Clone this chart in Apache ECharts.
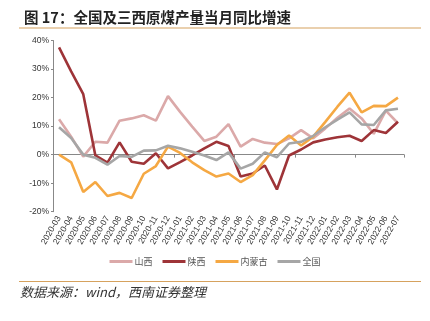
<!DOCTYPE html>
<html><head><meta charset="utf-8">
<script src="https://cdn.jsdelivr.net/npm/echarts@6/dist/echarts.min.js"></script>
<style>html,body{margin:0;padding:0;background:#fff}#c{width:430px;height:321px}</style>
</head><body><div id="c"></div>
<script>
const categories = ["2020-03","2020-04","2020-05","2020-06","2020-07","2020-08","2020-09","2020-10","2020-11","2020-12","2021-01","2021-02","2021-03","2021-04","2021-05","2021-06","2021-07","2021-08","2021-09","2021-10","2021-11","2021-12","2022-01","2022-02","2022-03","2022-04","2022-05","2022-06","2022-07"];
const shanxi = [12.4, 6.3, -0.7, 4.5, 4.2, 11.9, 12.7, 13.8, 11.9, 20.5, 15.0, 9.8, 4.8, 6.3, 10.7, 2.8, 5.5, 4.2, 3.7, 5.7, 8.6, 5.7, 9.2, 12.9, 16.2, 12.7, 7.3, 15.4, 11.0];
const shaanxi = [37.6, 29.2, 21.2, -0.3, -2.8, 4.3, -2.5, -3.2, 0.5, -4.8, -2.6, -0.3, 2.2, 4.5, 3.0, -7.7, -6.6, -3.8, -12.2, -0.3, 1.8, 4.3, 5.3, 6.1, 6.6, 4.8, 8.6, 7.6, 11.5];
const neimenggu = [0, -2.7, -13.1, -9.6, -14.5, -13.4, -15.2, -6.7, -4.0, 2.8, 0.6, -2.7, -5.4, -7.7, -6.6, -9.6, -7.2, -2.0, 3.4, 6.7, 3.2, 6.3, 11.5, 16.8, 21.7, 14.8, 17.1, 17.0, 20.0];
const quanguo = [9.6, 5.8, 0, -1.1, -3.5, -0.5, -0.8, 1.4, 1.5, 3.1, 2.2, 1.0, -0.3, -1.9, 0.8, -4.9, -3.2, 0.8, -0.9, 3.9, 4.5, 6.6, 9.6, 12.3, 14.8, 10.6, 10.4, 15.5, 16.1];
const seriesNames = ["山西","陕西","内蒙古","全国"];
const colors = ["#DBA9A9","#9E3438","#F5A843","#A6A6A6"];
const yTicks = {min: -20, max: 40, interval: 10};

const chart = echarts.init(document.getElementById('c'));
const dataList = [shanxi, shaanxi, neimenggu, quanguo];
chart.setOption({
  animation: false,
  color: colors,
  title: {
    text: "图 17：全国及三西原煤产量当月同比增速",
    left: 19, top: 5,
    textStyle: {fontFamily: "Noto Sans CJK SC", fontWeight: "bold", fontSize: 14.5, color: "#222"}
  },
  graphic: [
    {type: 'line', shape: {x1: 19, y1: 28, x2: 421, y2: 28}, style: {stroke: '#D6A25E', lineWidth: 1.2}},
    {type: 'line', shape: {x1: 19, y1: 281.5, x2: 421, y2: 281.5}, style: {stroke: '#D6A25E', lineWidth: 1.2}},
    {type: 'text', left: 20, top: 286, style: {text: "数据来源：wind，西南证券整理", fontFamily: "Noto Sans CJK SC", fontStyle: "italic", fontSize: 13, fill: "#333"}}
  ],
  legend: {
    bottom: 50, left: 'center',
    itemWidth: 23, itemHeight: 3, itemGap: 10,
    icon: 'rect',
    textStyle: {fontFamily: "Noto Sans CJK SC", fontSize: 9, color: "#555", padding: [0,0,0,-3]},
    data: seriesNames
  },
  grid: {left: 53, right: 26, top: 40.5, bottom: 109.3, containLabel: false},
  xAxis: [
    {type: 'category', data: categories, position: 'bottom',
     axisLine: {onZero: true, lineStyle: {color: '#888', width: 1}},
     axisTick: {show: true, length: 3, lineStyle: {color: '#888'}},
     axisLabel: {show: false}},
    {type: 'category', data: categories, position: 'bottom',
     axisLine: {show: false, onZero: false}, axisTick: {show: false},
     axisLabel: {interval: 0, rotate: 60, fontSize: 8.5, color: '#333', fontFamily: 'Liberation Sans', margin: 5}}
  ],
  yAxis: {
    type: 'value', min: yTicks.min, max: yTicks.max, interval: yTicks.interval,
    axisLine: {show: true, lineStyle: {color: '#888'}},
    axisTick: {show: true, length: 2, lineStyle: {color: '#888'}},
    splitLine: {show: false},
    axisLabel: {formatter: '{value}%', fontSize: 8.5, color: '#333', fontFamily: 'Liberation Sans', margin: 4}
  },
  series: seriesNames.map((n, i) => ({
    name: n, type: 'line', data: dataList[i], xAxisIndex: 0,
    symbol: 'none', lineStyle: {width: 2.6, color: colors[i]},
    z: i === 3 ? 3 : 2
  }))
});
</script></body></html>
